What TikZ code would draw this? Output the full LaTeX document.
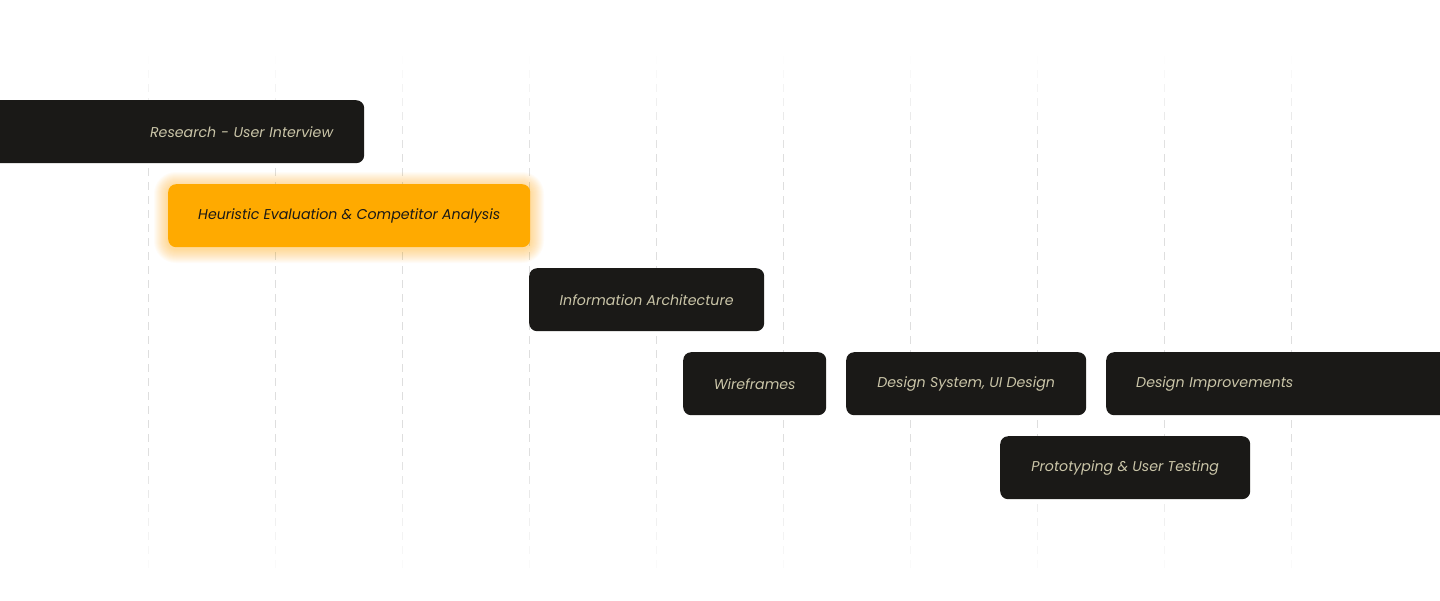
\documentclass[tikz,border=0pt]{standalone}
\usepackage{fontspec}
\setmainfont{Poppins}
\usetikzlibrary{calc}
\definecolor{boxdark}{HTML}{1A1917}
\definecolor{txtbeige}{HTML}{CAC5A8}
\definecolor{accent}{HTML}{FFAA00}
\definecolor{gridc}{HTML}{DEDEDE}
\newcommand{\taskfont}{\fontsize{14.2}{17}\selectfont\itshape}
\tikzset{
  task/.style={fill=boxdark, text=txtbeige, rounded corners=8pt, minimum height=63pt,
    inner xsep=0pt, inner ysep=0pt, font=\taskfont, anchor=north west},
  hot/.style={task, fill=accent, text=boxdark},
  gridline/.style={draw=gridc, line width=1pt},
}
\begin{document}
\begin{tikzpicture}[x=1pt,y=-1pt]
\useasboundingbox (0,0) rectangle (1440,600);
\clip (0,0) rectangle (1440,600);
\fill[white] (0,0) rectangle (1440,600);
% grid lines
\foreach \gx in {148,275,402,529,656,783,910,1037,1164,1291}{
  \foreach \gy in {56,70,...,570}{
    \pgfmathsetmacro{\op}{max(0,min(1,min((\gy-50)/100,(580-\gy)/140)))}
    \draw[gridline, opacity=\op] (\gx,\gy) -- (\gx,\gy+8);
  }
}
% glow behind highlighted task
\foreach \r in {1,...,14}{
  \fill[accent, opacity=0.03, rounded corners=8+\r] (168-\r,184-\r+2) rectangle (530+\r,247+\r+2);
}
\node[task, minimum width=384pt, text width=322pt, align=right] (research) at (-20,100) {Research - User Interview};
\node[hot, minimum width=362pt] (heuristic) at (168,184) {Heuristic Evaluation \& Competitor Analysis};
\node[task, minimum width=235pt] (infoarch) at (529,268) {Information Architecture};
\node[task, minimum width=143pt] (wire) at (683,352) {Wireframes};
\node[task, minimum width=240pt] (dsys) at (846,352) {Design System, UI Design};
\node[task, minimum width=360pt, text width=300pt, align=left] (improve) at (1106,352) {Design Improvements};
\node[task, minimum width=250pt] (proto) at (1000,436) {Prototyping \& User Testing};
\end{tikzpicture}
\end{document}
